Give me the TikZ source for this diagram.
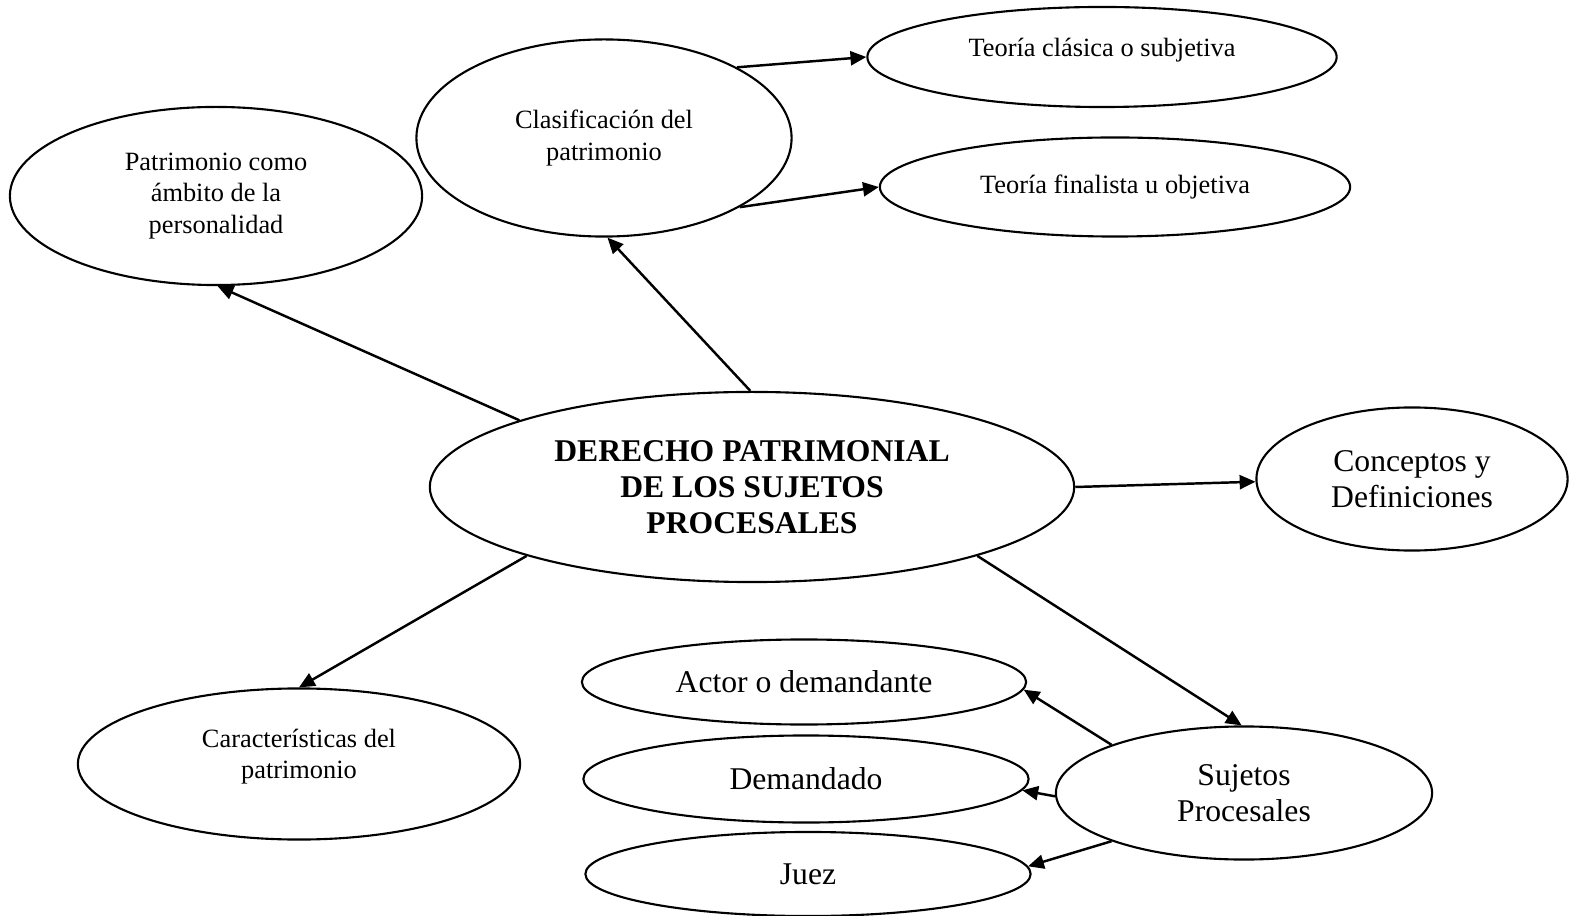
\documentclass[tikz,border=0pt]{standalone}
\usepackage{fontspec}
\setmainfont{Liberation Serif}
\usetikzlibrary{shapes.geometric,arrows.meta}
\tikzset{
  elip/.style={draw, ellipse, line width=0.6pt, inner sep=0pt, align=center},
  chico/.style={elip, font=\fontsize{7.5}{9}\selectfont},
  grande/.style={elip, font=\fontsize{9}{10.3}\selectfont},
  flecha/.style={line width=0.7pt, -{Triangle[length=4.5pt,width=4pt]}}
}
\begin{document}
\begin{tikzpicture}[x=0.01cm, y=-0.01cm]
	\useasboundingbox (0,0) rectangle (1573,916);
	% nodo central
	\node[grande, minimum width=6.44cm, minimum height=1.9cm, font=\fontsize{9}{10.3}\selectfont\bfseries] (dp) at (752,487) {DERECHO PATRIMONIAL\\DE LOS SUJETOS\\PROCESALES};
	% ramas
	\node[chico, minimum width=4.12cm, minimum height=1.78cm] (pat) at (216,196) {Patrimonio como\\ámbito de la\\personalidad};
	\node[chico, minimum width=3.75cm, minimum height=1.97cm] (cla) at (604,138) {Clasificación del\\patrimonio};
	\node[chico, minimum width=4.69cm, minimum height=1cm, text depth=0.19cm] (tcl) at (1102,57) {Teoría clásica o subjetiva};
	\node[chico, minimum width=4.7cm, minimum height=0.99cm] (tfi) at (1115,187) {Teoría finalista u objetiva};
	\node[grande, minimum width=3.11cm, minimum height=1.43cm] (con) at (1412,479) {Conceptos y\\Definiciones};
	\node[chico, minimum width=4.42cm, minimum height=1.51cm, text depth=0.2cm] (car) at (299,764) {Características del\\patrimonio};
	\node[grande, minimum width=3.76cm, minimum height=1.33cm] (suj) at (1244,793) {Sujetos\\Procesales};
	\node[grande, minimum width=4.44cm, minimum height=0.85cm] (act) at (804,682) {Actor o demandante};
	\node[grande, minimum width=4.45cm, minimum height=0.87cm] (dem) at (806,779) {Demandado};
	\node[grande, minimum width=4.45cm, minimum height=0.84cm] (jue) at (808,874) {Juez};
	% conectores
	\draw[flecha] (dp.164) -- (pat.271);
	\draw[flecha] (dp.91) -- (cla.272);
	\draw[flecha] (cla.28) -- (tcl.180);
	\draw[flecha] (cla.-27) -- (tfi.180);
	\draw[flecha] (dp.0) -- (con.181);
	\draw[flecha] (dp.197) -- (car.90);
	\draw[flecha] (dp.-17) -- (suj.92);
	\draw[flecha] (suj.160) -- (act.-2);
	\draw[flecha] (suj.181) -- (dem.-3);
	\draw[flecha] (suj.200) -- (jue.2);
\end{tikzpicture}
\end{document}
